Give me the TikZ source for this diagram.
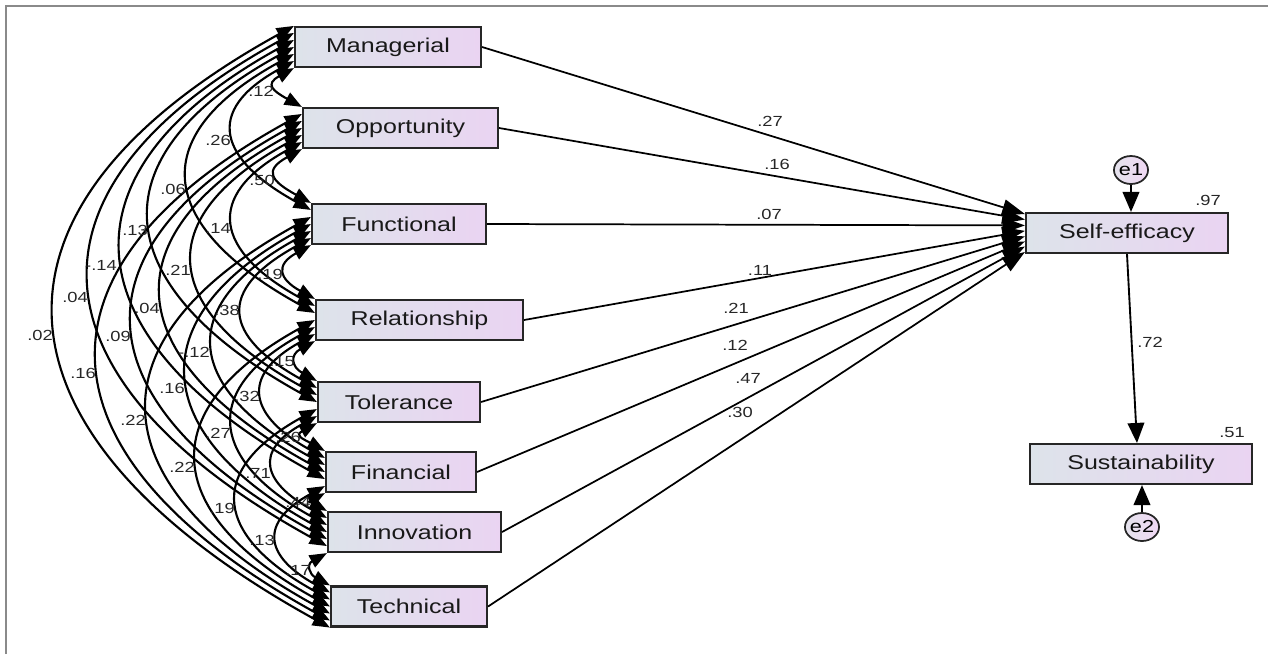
\documentclass[tikz,border=0pt]{standalone}
\usepackage{fontspec}
\setmainfont{Liberation Sans}[FakeStretch=1.25]
\usetikzlibrary{arrows.meta,calc,shapes.geometric}
\definecolor{boxL}{HTML}{DDE3EA}
\definecolor{boxR}{HTML}{EAD4F2}
\definecolor{eL}{HTML}{E4E2EC}
\definecolor{eR}{HTML}{F0D8F4}
\definecolor{frameC}{HTML}{8A8A8A}
\newcommand\covarc[5]{%
  \draw[cov] let \p1=($(#1.north west)!#2!(#1.south west)$),
                 \p2=($(#3.north west)!#4!(#3.south west)$),
                 \n1={((\x1+\x2)/2-#5*0.75pt)*4/3},
                 \n2={\n1*0.55} in
    (\p1) .. controls (\x1-\n1,\y1-\n2) and (\x2-\n1,\y2+\n2) .. (\p2);}
\begin{document}
\begin{tikzpicture}[x=0.75pt,y=-0.75pt,
  box/.style={draw=black!85, line width=1.6pt, left color=boxL, right color=boxR,
    minimum height=30pt, inner sep=0pt, font=\fontsize{15}{16}\selectfont, text=black!90},
  err/.style={ellipse, draw=black!85, line width=1.3pt, left color=eL, right color=eR,
    minimum width=24pt, minimum height=21pt, inner sep=0pt, font=\fontsize{13}{14}\selectfont},
  lab/.style={font=\fontsize{11}{12}\selectfont, text=black!85, inner sep=0pt},
  cov/.style={line width=1.6pt, {Triangle[length=13pt,width=10pt]}-{Triangle[length=13pt,width=10pt]}},
  reg/.style={line width=1.3pt, -{Triangle[length=17pt,width=12pt]}},
  regbig/.style={line width=1.4pt, -{Triangle[length=15pt,width=12.5pt]}}]
\useasboundingbox (0,0) rectangle (1268,654);
\draw[frameC, line width=1.5pt] (6,654) -- (6,6) -- (1268,6);

% exogenous boxes
\node[box, minimum width=139.5pt]  (man) at (388,47)    {Managerial};
\node[box, minimum width=146.25pt] (opp) at (400.5,128) {Opportunity};
\node[box, minimum width=130.5pt]  (fun) at (399,224)   {Functional};
\node[box, minimum width=155.25pt] (rel) at (419.5,320) {Relationship};
\node[box, minimum width=121.5pt]  (tol) at (399,402)   {Tolerance};
\node[box, minimum width=112.5pt]  (fin) at (401,472)   {Financial};
\node[box, minimum width=129.75pt] (inn) at (414.5,532) {Innovation};
\node[box, minimum width=117pt]    (tec) at (409,606.5) {Technical};
% endogenous
\node[box, minimum width=151.5pt]  (se)  at (1127,233)  {Self-efficacy};
\node[box, minimum width=166.5pt]  (su)  at (1141,464)  {Sustainability};
\node[err] (e1) at (1131,170) {e1};
\node[err] (e2) at (1142,527) {e2};

% covariances
\covarc{man}{1}{opp}{0}{276}
\covarc{man}{0.8333}{fun}{0.1667}{234}
\covarc{man}{0.6667}{rel}{0.3333}{189}
\covarc{man}{0.5}{tol}{0.5}{151}
\covarc{man}{0.3333}{fin}{0.6667}{123}
\covarc{man}{0.1667}{inn}{0.8333}{91}
\covarc{man}{0}{tec}{1}{56}
\covarc{opp}{1}{fun}{0}{277}
\covarc{opp}{0.8333}{rel}{0.1667}{234}
\covarc{opp}{0.6667}{tol}{0.3333}{194}
\covarc{opp}{0.5}{fin}{0.5}{163}
\covarc{opp}{0.3333}{inn}{0.6667}{134}
\covarc{opp}{0.1667}{tec}{0.8333}{99}
\covarc{fun}{1}{rel}{0}{286}
\covarc{fun}{0.8333}{tol}{0.1667}{243}
\covarc{fun}{0.6667}{fin}{0.3333}{214}
\covarc{fun}{0.5}{inn}{0.5}{188}
\covarc{fun}{0.3333}{tec}{0.6667}{149}
\covarc{rel}{1}{tol}{0}{297}
\covarc{rel}{0.8333}{fin}{0.1667}{263}
\covarc{rel}{0.6667}{inn}{0.3333}{234}
\covarc{rel}{0.5}{tec}{0.5}{198}
\covarc{tol}{1}{fin}{0}{304}
\covarc{tol}{0.8333}{inn}{0.1667}{274}
\covarc{tol}{0.6667}{tec}{0.3333}{238}
\covarc{fin}{1}{inn}{0}{313}
\covarc{fin}{0.8333}{tec}{0.1667}{278}
\covarc{inn}{1}{tec}{0}{313}

% covariance labels
\node[lab] (c01) at (261,91)  {.12};
\node[lab] (c02) at (218,140) {.26};
\node[lab] (c03) at (173,189) {.06};
\node[lab] (c04) at (135,230) {.13};
\node[lab] (c05) at (101,265) {-.14};
\node[lab] (c06) at (75,297)  {.04};
\node[lab] (c07) at (40,335)  {.02};
\node[lab] (c12) at (262,180) {.50};
\node[lab] (c13) at (218,228) {.14};
\node[lab] (c14) at (178,270) {.21};
\node[lab] (c15) at (147,308) {.04};
\node[lab] (c16) at (118,336) {.09};
\node[lab] (c17) at (83,373)  {.16};
\node[lab] (c23) at (270,274) {.19};
\node[lab] (c24) at (227,310) {.38};
\node[lab] (c25) at (194,352) {-.12};
\node[lab] (c26) at (172,388) {.16};
\node[lab] (c27) at (133,420) {.22};
\node[lab] (c34) at (282,362) {.15};
\node[lab] (c35) at (247,396) {.32};
\node[lab] (c36) at (218,433) {.27};
\node[lab] (c37) at (182,467) {.22};
\node[lab] (c45) at (288,437) {.26};
\node[lab] (c46) at (258,473) {.71};
\node[lab] (c47) at (222,508) {.19};
\node[lab] (c56) at (298,502) {.44};
\node[lab] (c57) at (262,540) {.13};
\node[lab] (c67) at (298,570) {.17};

% regressions
\draw[reg] (man.east) -- ($(se.north west)!0.05!(se.south west)$);
\draw[reg] (opp.east) -- ($(se.north west)!0.18!(se.south west)$);
\draw[reg] (fun.east) -- ($(se.north west)!0.32!(se.south west)$);
\draw[reg] (rel.east) -- ($(se.north west)!0.45!(se.south west)$);
\draw[reg] (tol.east) -- ($(se.north west)!0.58!(se.south west)$);
\draw[reg] (fin.east) -- ($(se.north west)!0.70!(se.south west)$);
\draw[reg] (inn.east) -- ($(se.north west)!0.82!(se.south west)$);
\draw[reg] (tec.east) -- ($(se.north west)!0.95!(se.south west)$);
\node[lab] (r1) at (770,121) {.27};
\node[lab] (r2) at (777,164) {.16};
\node[lab] (r3) at (769,214) {.07};
\node[lab] (r4) at (760,270) {.11};
\node[lab] (r5) at (736,308) {.21};
\node[lab] (r6) at (735,345) {.12};
\node[lab] (r7) at (748,378) {.47};
\node[lab] (r8) at (740,412) {.30};

\draw[regbig] (e1) -- (e1 |- se.north);
\draw[regbig] (se.south) -- ($(su.north)+(-3pt,0pt)$);
\draw[regbig] (e2) -- (e2 |- su.south);
\node[lab] (l97) at (1208,200) {.97};
\node[lab] (l51) at (1232,433) {.51};
\node[lab] (l72) at (1150,342) {.72};
\end{tikzpicture}
\end{document}
